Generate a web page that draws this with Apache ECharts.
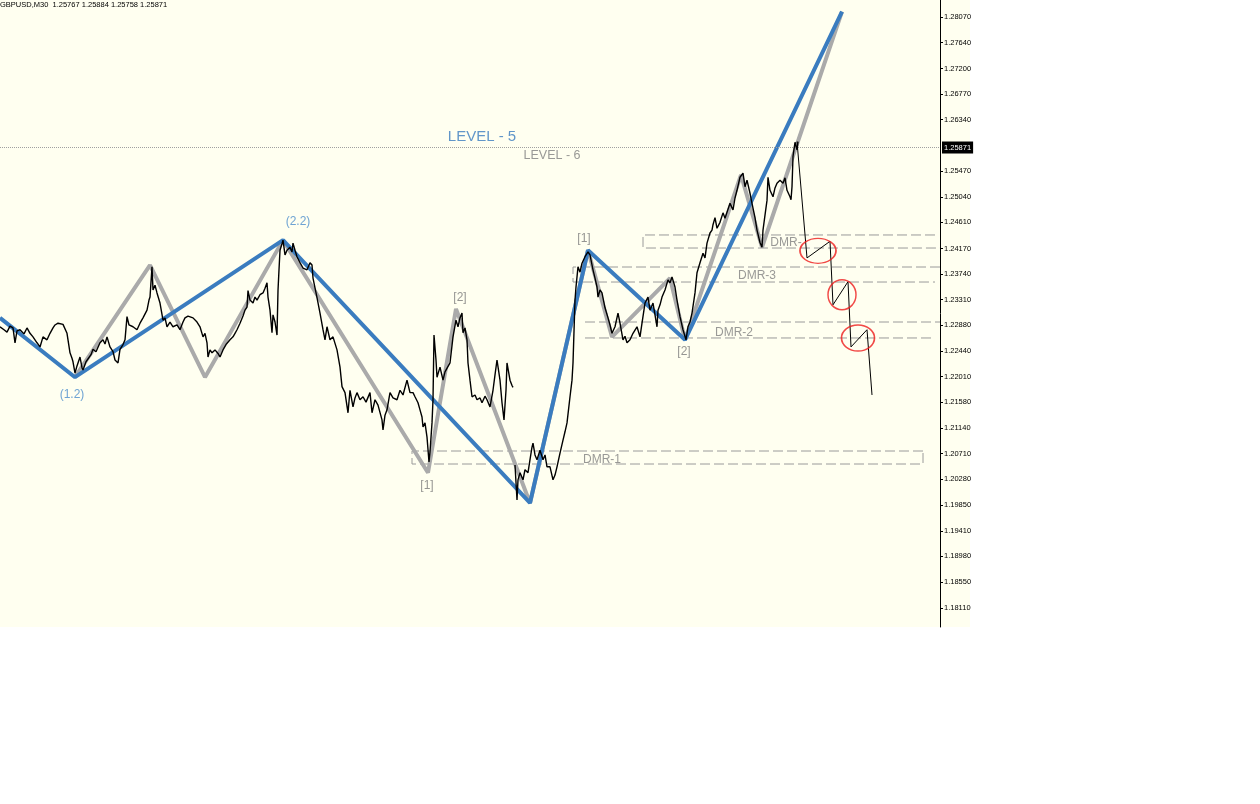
<!DOCTYPE html>
<html><head><meta charset="utf-8">
<script src="https://cdn.jsdelivr.net/npm/echarts@6/dist/echarts.min.js"></script>
<style>html,body{margin:0;padding:0;background:#fff}#c{width:1260px;height:804px}</style>
</head><body><div id="c"></div>
<script>
// ---- data (bar index, price) ----
const titleText = 'GBPUSD,M30  1.25767 1.25884 1.25758 1.25871';
const yTicks = [1.28070,1.27640,1.27200,1.26770,1.26340,1.25470,1.25040,1.24610,1.24170,1.23740,1.23310,1.22880,1.22440,1.22010,1.21580,1.21140,1.20710,1.20280,1.19850,1.19410,1.18980,1.18550,1.18110];
const lastPrice = 1.25871;

const priceA = [[0,1.2285],[4,1.2280],[7,1.2276],[10,1.2286],[13,1.2283],[15,1.2258],[17,1.2278],[20,1.2280],[24,1.2273],[27,1.2283],[30,1.2274],[33,1.2268],[37,1.2258],[40,1.2251],[43,1.2268],[47,1.2263],[50,1.2274],[53,1.2283],[55,1.2288],[58,1.2291],[60,1.2293],[63,1.2289],[65,1.2291],[67,1.2274],[70,1.2241],[72,1.2232],[73,1.2226],[75,1.2207],[77,1.2219],[80,1.2234],[82,1.2216],[83,1.2212],[86,1.2226],[88,1.2229],[91,1.2238],[93,1.2247],[96,1.2243],[100,1.2258],[103,1.2263],[105,1.2256],[107,1.2268],[110,1.2251],[113,1.2243],[115,1.2229],[118,1.2224],[120,1.2247],[123,1.2255],[125,1.2263],[127,1.2302],[129,1.2288],[130,1.2291],[133,1.2285],[137,1.2280],[140,1.2291],[143,1.2300],[147,1.2313],[149,1.2330],[150,1.2335],[152,1.2386],[153,1.2347],[155,1.2355],[157,1.2342],[160,1.2325],[163,1.2296],[165,1.2300],[167,1.2285],[170,1.2293],[173,1.2285],[177,1.2288],[180,1.2280],[183,1.2293],[185,1.2300],[188,1.2303],[190,1.2305],[193,1.2300],[197,1.2293],[200,1.2285],[203,1.2268],[205,1.2274],[207,1.2258],[208,1.2234],[210,1.2246],[212,1.2241],[215,1.2246],[218,1.2240],[220,1.2234],[223,1.2246],[226,1.2255],[230,1.2263],[233,1.2268],[235,1.2274],[237,1.2280],[240,1.2291],[243,1.2303],[245,1.2313],[247,1.2318],[248,1.2346],[250,1.2330],[253,1.2325],[255,1.2335],[257,1.2330],[260,1.2339],[263,1.2342],[265,1.2350],[267,1.2359],[268,1.2335],[270,1.2313],[272,1.2275],[273,1.2305],[275,1.2293],[277,1.2271],[278,1.2346],[279,1.2381],[280,1.2414],[282,1.2425],[283,1.2431],[285,1.2406],[287,1.2414],[290,1.2419],[292,1.2411],[293,1.2426],[295,1.2414],[297,1.2403],[300,1.2393],[303,1.2384],[307,1.2381],[310,1.2393],[312,1.2389],[313,1.2367],[317,1.2334],[320,1.2308],[323,1.2280],[325,1.2263],[327,1.2285],[330,1.2263],[333,1.2268],[337,1.2246],[340,1.2217],[342,1.2184],[345,1.2174],[348,1.2140],[350,1.2178],[353,1.2150],[355,1.2165],[357,1.2174],[360,1.2162],[363,1.2167],[366,1.2158],[370,1.2174],[372,1.2140],[375,1.2162],[378,1.2153],[382,1.2128],[383,1.2111],[385,1.2136],[387,1.2145],[390,1.2174],[393,1.2165],[397,1.2162],[400,1.2178],[403,1.2170],[407,1.2195],[410,1.2174],[413,1.2174],[415,1.2167],[418,1.2157],[420,1.2145],[422,1.2133],[423,1.2116],[425,1.2123],[427,1.2099],[429,1.2057],[430,1.2074],[432,1.2123],[433,1.2162],[434,1.2271],[436,1.2229],[437,1.2200],[440,1.2217],[443,1.2195],[445,1.2209],[447,1.2212],[450,1.2224],[453,1.2268],[456,1.2296],[458,1.2285],[460,1.2300],[462,1.2308],[463,1.2275],[465,1.2283],[467,1.2263],[468,1.2224],[470,1.2195],[472,1.2167],[475,1.2170],[477,1.2162],[480,1.2165],[482,1.2157],[485,1.2168],[487,1.2162],[490,1.2150],[493,1.2178],[495,1.2204],[497,1.2229],[500,1.2195],[502,1.2157],[504,1.2128],[506,1.2178],[507,1.2224],[510,1.2195],[512,1.2186],[513,1.2183]];

const priceB = [[515,1.2052],[517,1.1993],[518,1.2027],[520,1.2039],[523,1.2027],[525,1.2044],[528,1.2039],[530,1.2061],[532,1.2082],[533,1.2089],[535,1.2069],[537,1.2061],[540,1.2077],[543,1.2061],[545,1.2069],[547,1.2049],[550,1.2049],[553,1.2027],[555,1.2035],[557,1.2049],[560,1.2072],[563,1.2094],[565,1.2108],[567,1.2123],[570,1.2167],[572,1.2195],[573,1.2224],[575,1.2330],[576,1.2352],[578,1.2386],[580,1.2377],[582,1.2392],[585,1.2403],[588,1.2411],[590,1.2406],[592,1.2403],[593,1.2381],[595,1.2367],[597,1.2352],[598,1.2335],[600,1.2347],[602,1.2342],[605,1.2317],[608,1.2300],[610,1.2288],[612,1.2274],[615,1.2285],[618,1.2308],[620,1.2291],[623,1.2263],[625,1.2269],[627,1.2258],[630,1.2263],[633,1.2274],[637,1.2285],[640,1.2268],[642,1.2291],[645,1.2325],[648,1.2335],[650,1.2313],[653,1.2325],[655,1.2305],[657,1.2285],[658,1.2313],[660,1.2322],[662,1.2335],[665,1.2347],[668,1.2364],[670,1.2359],[672,1.2369],[675,1.2352],[677,1.2330],[680,1.2302],[683,1.2280],[686,1.2263],[688,1.2285],[690,1.2293],[692,1.2308],[695,1.2342],[697,1.2376],[700,1.2393],[703,1.2409],[705,1.2401],[707,1.2426],[710,1.2443],[712,1.2448],[713,1.2457],[715,1.2469],[717,1.2451],[720,1.2461],[723,1.2477],[725,1.2468],[727,1.2465],[730,1.2493],[733,1.2482],[735,1.2502],[737,1.2515],[740,1.2537],[743,1.2544],[745,1.2521],[747,1.2532],[750,1.2510],[752,1.2493],[755,1.2469],[757,1.2448],[760,1.2427],[762,1.2419],[763,1.2448],[765,1.2473],[767,1.2498],[768,1.2537],[770,1.2515],[773,1.2504],[775,1.2519],[777,1.2527],[780,1.2532],[783,1.2527],[785,1.2536],[787,1.2515],[790,1.2504],[791,1.2499],[792,1.2521],[793,1.2572],[795,1.2596],[797,1.2583],[798,1.2597]];

const projection = [[797,1.2597],[807,1.2401],[830,1.2429],[833,1.2322],[848,1.2361],[851,1.2251],[867,1.2280],[872,1.2170]];
const grayWave = [[75,1.2200],[150,1.2389],[205,1.2200],[283,1.2431],[428,1.2039],[456,1.2315],[530,1.1988],[588,1.2414],[612,1.2268],[670,1.2367],[685,1.2263],[741,1.2541],[762,1.2419],[842,1.2816]];
const blueWave = [[0,1.2300],[75,1.2200],[283,1.2431],[530,1.1988],[588,1.2414],[685,1.2263],[842,1.2816]];

// zones
const zoneNames = ['DMR-1','DMR-3','DMR-','DMR-2'];
const zoneLeft  = [412, 573, 643, 585];
const zoneRightTop = [923, 940, 935, 940];
const zoneRightBot = [923, 935, 940, 935];
const zoneHigh = [1.20756, 1.23857, 1.24397, 1.22930];
const zoneLow  = [1.20537, 1.23604, 1.24177, 1.22661];
const zoneLeftEdge = [true, true, true, false];
const zoneRightEdge = [true, false, false, false];
const zoneLabelPos = [[602,1.2061],[757,1.2371],[786,1.2426],[734,1.2275]];

const waveLabelsBlue = [[72,1.2170,'(1.2)'],[298,1.2462,'(2.2)']];
const waveLabelsGray = [[427,1.2017,'[1]'],[460,1.2334,'[2]'],[584,1.2433,'[1]'],[684,1.2243,'[2]']];
const levelLabels = [[482,1.2605,'LEVEL - 5'],[552,1.2574,'LEVEL - 6']];

const ellipseCenters = [[818,1.2413],[842,1.2339],[858,1.2266]];
const ellipseSizes = [[36,25],[28,30],[33,26]];

// ---- build ----
const zonePath = [];
for (let i = 0; i < zoneLeft.length; i++) {
  if (zoneLeftEdge[i]) {
    zonePath.push([zoneRightTop[i], zoneHigh[i]], [zoneLeft[i], zoneHigh[i]], [zoneLeft[i], zoneLow[i]], [zoneRightBot[i], zoneLow[i]]);
    if (zoneRightEdge[i]) zonePath.push([zoneRightTop[i], zoneHigh[i]]);
    zonePath.push(null);
  } else {
    zonePath.push([zoneLeft[i], zoneHigh[i]], [zoneRightTop[i], zoneHigh[i]], null, [zoneLeft[i], zoneLow[i]], [zoneRightBot[i], zoneLow[i]], null);
  }
}
const font = 'Liberation Sans';
function textSeries(items, size, color) {
  return {
    type: 'scatter', symbolSize: 1, silent: true, z: 6,
    itemStyle: { color: 'transparent' },
    data: items.map(d => ({ value: [d[0], d[1]], name: d[2] })),
    label: { show: true, position: 'inside', formatter: '{b}', fontSize: size, color: color, fontFamily: font }
  };
}
const lineBase = { type: 'line', showSymbol: false, symbol: 'none', silent: true, animation: false };

const chart = echarts.init(document.getElementById('c'));
chart.setOption({
  animation: false,
  backgroundColor: '#ffffff',
  title: { text: titleText, left: 0, top: 1, padding: [0, 0, 0, 0], textStyle: { fontSize: 7.5, fontWeight: 'normal', color: '#000', fontFamily: font } },
  graphic: [{ type: 'rect', shape: { x: 0, y: 0, width: 970, height: 627 }, style: { fill: '#fffff0' }, z: -10, silent: true }],
  grid: { left: 0, top: 0, width: 940, height: 627 },
  xAxis: { type: 'value', min: 0, max: 940, show: false },
  yAxis: {
    type: 'value', position: 'right', min: 1.17790, max: 1.28357, scale: true,
    splitLine: { show: false },
    axisLine: { show: true, onZero: false, lineStyle: { color: '#000', width: 1 } },
    axisTick: { show: true, length: 3, customValues: yTicks, lineStyle: { color: '#000' } },
    axisLabel: { customValues: yTicks, formatter: v => v.toFixed(5), fontSize: 7.5, color: '#000', margin: 4, fontFamily: font }
  },
  series: [
    Object.assign({}, lineBase, { name: 'zones', data: zonePath, connectNulls: false, z: 2,
      lineStyle: { color: '#9a9a9a', width: 1, type: [10, 4] } }),
    Object.assign({}, lineBase, { name: 'gray', data: grayWave, z: 3, lineStyle: { color: '#aaaaaa', width: 4 } }),
    Object.assign({}, lineBase, { name: 'blue', data: blueWave, z: 4, lineStyle: { color: '#3a7cbf', width: 4 } }),
    Object.assign({}, lineBase, { name: 'priceA', data: priceA, z: 5, lineStyle: { color: '#000', width: 1.4 } }),
    Object.assign({}, lineBase, { name: 'priceB', data: priceB, z: 5, lineStyle: { color: '#000', width: 1.4 },
      markLine: { symbol: 'none', silent: true, animation: false, precision: 5, data: [{ yAxis: lastPrice }],
        lineStyle: { type: 'dotted', color: '#a0a0a0', width: 1 },
        label: { show: true, position: 'end', formatter: lastPrice.toFixed(5), backgroundColor: '#000', color: '#fff',
          fontSize: 7.5, padding: [2, 2, 2, 2], distance: 2, fontFamily: font } } }),
    Object.assign({}, lineBase, { name: 'projection', data: projection, z: 5, lineStyle: { color: '#000', width: 1 } }),
    { type: 'scatter', silent: true, z: 6, symbol: 'circle',
      data: ellipseCenters.map((c, i) => ({ value: c, symbolSize: ellipseSizes[i] })),
      itemStyle: { color: 'transparent', borderColor: '#ee1c1c', borderWidth: 1.5 } },
    textSeries(zoneLabelPos.map((p, i) => [p[0], p[1], zoneNames[i]]), 12, '#808080'),
    textSeries(waveLabelsBlue, 12, '#4a8ccc'),
    textSeries(waveLabelsGray, 12, '#7a7a7a'),
    textSeries([levelLabels[0]], 15, '#3a7cbf'),
    textSeries([levelLabels[1]], 12.5, '#808080')
  ]
});
</script></body></html>
